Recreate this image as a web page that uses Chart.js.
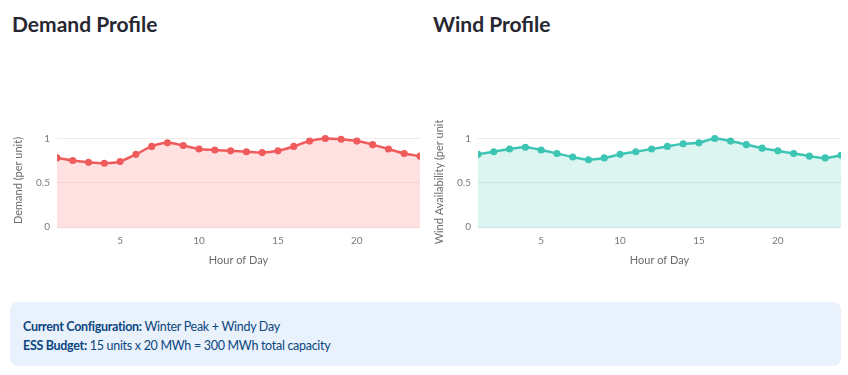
<!DOCTYPE html>
<html>
<head>
<meta charset="utf-8">
<script src="https://cdn.jsdelivr.net/npm/chart.js@4.4.1/dist/chart.umd.min.js"></script>
<style>
  html, body { margin: 0; padding: 0; background: #fff; }
  body { width: 848px; height: 375px; position: relative; overflow: hidden; font-family: Lato, "Noto Sans", sans-serif; }
  h2 { position: absolute; margin: 0; font-size: 21px; font-weight: 700; color: #262730; top: 10px; line-height: 28px; }
  .chart { position: absolute; top: 120px; width: 430px; height: 155px; }
  .info { position: absolute; left: 10px; top: 302px; width: 831px; height: 64px; box-sizing: border-box;
    background: #e8f1fc; border-radius: 8px; color: #0b4680; font-size: 12.5px; letter-spacing: -0.3px;
    padding: 15px 13px; line-height: 19px; }
  .info b { font-weight: 700; }
</style>
</head>
<body>
<h2 style="left:12px">Demand Profile</h2>
<h2 style="left:433px">Wind Profile</h2>
<div class="chart" style="left:0"><canvas id="demand-chart"></canvas></div>
<div class="chart" style="left:421px"><canvas id="wind-chart"></canvas></div>
<div class="info">
  <div><b>Current Configuration:</b> Winter Peak + Windy Day</div>
  <div><b>ESS Budget:</b> 15 units x 20 MWh = 300 MWh total capacity</div>
</div>
<script>
const hours = [1, 2, 3, 4, 5, 6, 7, 8, 9, 10, 11, 12, 13, 14, 15, 16, 17, 18, 19, 20, 21, 22, 23, 24];
const demand = [0.78, 0.75, 0.73, 0.72, 0.74, 0.82, 0.91, 0.95, 0.92, 0.88, 0.87, 0.86,
                0.85, 0.84, 0.86, 0.91, 0.97, 1.0, 0.99, 0.97, 0.93, 0.88, 0.83, 0.80];
const wind = [0.82, 0.85, 0.88, 0.90, 0.87, 0.83, 0.79, 0.76, 0.78, 0.82, 0.85, 0.88,
              0.91, 0.94, 0.95, 1.0, 0.97, 0.93, 0.89, 0.86, 0.83, 0.80, 0.78, 0.81];
const xTicks = [5, 10, 15, 20];
const yTicks = [0, 0.5, 1];
const yTickLabels = ['0', '0.5', '1'];

const tickFont = { family: 'Lato, "Noto Sans", sans-serif', size: 10 };
const titleFont = { family: 'Lato, "Noto Sans", sans-serif', size: 11 };

function makeChart(canvasId, values, lineColor, fillColor, yTitle, zeroColor) {
  return new Chart(document.getElementById(canvasId), {
    type: 'line',
    data: {
      datasets: [{
        data: hours.map((h, i) => ({ x: h, y: values[i] })),
        borderColor: lineColor,
        backgroundColor: fillColor,
        pointBackgroundColor: lineColor,
        pointBorderColor: lineColor,
        borderWidth: 2.5,
        pointRadius: 2.3,
        fill: 'origin',
        tension: 0.3,
      }],
    },
    options: {
      animation: false,
      responsive: true,
      maintainAspectRatio: false,
      layout: { padding: { top: 14, right: 10, left: 0, bottom: 0 } },
      plugins: { legend: { display: false }, tooltip: { enabled: false } },
      scales: {
        x: {
          type: 'linear', min: 1, max: 24,
          afterBuildTicks: axis => { axis.ticks = xTicks.map(v => ({ value: v })); },
          afterFit: axis => { axis.height = 48; },
          grid: { display: false, drawTicks: false },
          border: { display: false },
          ticks: { color: '#7a7a7a', font: tickFont, padding: 8, maxRotation: 0 },
          title: { display: true, text: 'Hour of Day', color: '#6b6b6b', font: titleFont, padding: { top: 0, bottom: 8 } },
        },
        y: {
          min: 0, max: 1.05,
          afterBuildTicks: axis => { axis.ticks = yTicks.map(v => ({ value: v })); },
          afterFit: axis => { axis.width = 57; },
          grid: {
            drawTicks: false,
            color: ctx => ctx.tick && ctx.tick.value === 0 ? zeroColor : '#ececec',
            lineWidth: 1,
          },
          border: { display: false },
          ticks: {
            color: '#7a7a7a', font: tickFont, padding: 7,
            callback: v => yTickLabels[yTicks.indexOf(v)],
          },
          title: { display: true, text: yTitle, color: '#6b6b6b', font: titleFont, padding: { top: 12, bottom: 0 } },
        },
      },
    },
  });
}

makeChart('demand-chart', demand, '#ef5b5b', 'rgba(255, 120, 120, 0.22)', 'Demand (per unit)', '#f2d6d6');
makeChart('wind-chart', wind, '#3cc5b3', 'rgba(60, 197, 179, 0.18)', 'Wind Availability (per unit)', '#cfe3ee');
</script>
</body>
</html>
